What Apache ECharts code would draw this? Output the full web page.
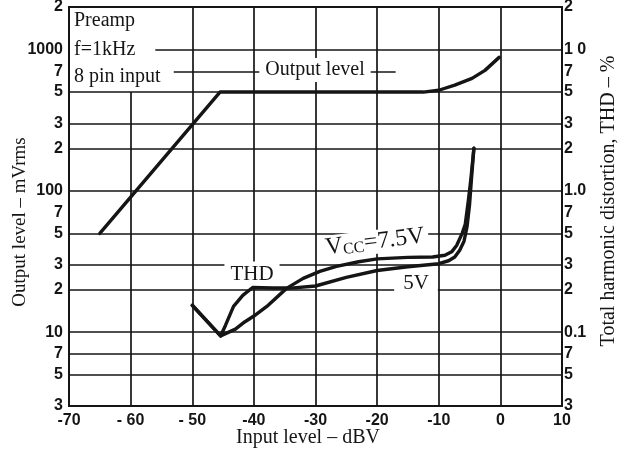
<!DOCTYPE html>
<html><head><meta charset="utf-8">
<script src="https://cdn.jsdelivr.net/npm/echarts@6/dist/echarts.min.js"></script>
<style>html,body{margin:0;padding:0;background:#fff}#c{width:624px;height:460px}</style>
</head><body><div id="c"></div>
<script>
// ---- axis ticks / labels ----
const xTicks = [-70, -60, -50, -40, -30, -20, -10, 0, 10];
const xTickLabels = ['-70', '- 60', '- 50', '-40', '-30', '-20', '-10', '0', '10'];
const leftTickValues = [2000, 1000, 700, 500, 300, 200, 100, 70, 50, 30, 20, 10, 7, 5, 3];
const leftTickLabels = ['2', '1000', '7', '5', '3', '2', '100', '7', '5', '3', '2', '10', '7', '5', '3'];
const rightTickValues = [20, 10, 7, 5, 3, 2, 1, 0.7, 0.5, 0.3, 0.2, 0.1, 0.07, 0.05, 0.03];
const rightTickLabels = ['2', '1 0', '7', '5', '3', '2', '1.0', '7', '5', '3', '2', '0.1', '7', '5', '3'];
// grid lines (data space)
const hGridFull = [500, 300, 200, 100, 50, 30, 20, 10, 7, 5];
const vGridFull = [-50, -40, -30, -20, -10, 0];
const gridSegments = [[[-56, 1000], [10, 1000]], [[-53, 700], [-17, 700]], [[-60, 3], [-60, 500]]];

// ---- series data ----
// Output level (mVrms) vs input level (dBV)
const outInput = [-65, -45.5, -12.5, -10, -7.4, -4.6, -2.5, -0.2];
const outLevel = [50, 500, 500, 515, 560, 625, 712, 880];
// THD (%) , Vcc = 7.5 V
const thd75Input = [-50, -45.4, -43, -41.5, -40, -37.9, -34.7, -32, -29.3, -26.6, -23, -20, -15, -11, -9, -7.9, -7.1, -6.2, -5.7, -5.2, -4.8, -4.3];
const thd75 = [0.155, 0.094, 0.105, 0.118, 0.13, 0.152, 0.204, 0.24, 0.269, 0.292, 0.315, 0.33, 0.338, 0.34, 0.35, 0.37, 0.41, 0.5, 0.58, 0.85, 1.2, 2.0];
// THD (%) , Vcc = 5 V
const thd5Input = [-50, -45.4, -44.6, -43.3, -41.8, -40.2, -37, -34, -30, -25, -20, -15, -10, -8.4, -7.4, -6.6, -5.9, -5.4, -5.0, -4.7, -4.3];
const thd5 = [0.155, 0.094, 0.112, 0.152, 0.182, 0.207, 0.205, 0.205, 0.212, 0.244, 0.273, 0.29, 0.305, 0.32, 0.34, 0.38, 0.44, 0.56, 0.8, 1.2, 2.0];

const INK = '#151515';
const SERIF = 'Liberation Serif';
const tickFont = { fontFamily: 'Liberation Sans', fontWeight: 'bold', fontSize: 16, color: INK };
const zip = (xs, ys) => xs.map((x, i) => [x, ys[i]]);

const chart = echarts.init(document.getElementById('c'), null, { renderer: 'canvas' });
const hiddenAxis = { axisLine: { show: false }, axisTick: { show: false }, axisLabel: { show: false }, splitLine: { show: false } };
const curveStyle = { color: INK, width: 3.4, cap: 'round', join: 'round' };

function txt(text, x, y, extra) {
  return Object.assign({ type: 'text', x: x, y: y, z: 2, silent: true,
    style: Object.assign({ text: text, font: '20px ' + SERIF, fill: INK, align: 'center', verticalAlign: 'middle' }, extra && extra.style) },
    extra && extra.el);
}

const option = {
  animation: false,
  backgroundColor: '#fff',
  grid: { left: 69, right: 62, top: 7, bottom: 54, show: true, borderColor: INK, borderWidth: 2,
          backgroundColor: 'transparent', containLabel: false, outerBoundsMode: 'none' },
  xAxis: { type: 'value', min: -70, max: 10, interval: 10,
    axisLine: { show: false }, axisTick: { show: false }, splitLine: { show: false },
    axisLabel: Object.assign({ margin: 7, formatter: v => { const i = xTicks.indexOf(v); return i >= 0 ? xTickLabels[i] : ''; } }, tickFont) },
  yAxis: [
    Object.assign({ type: 'log', logBase: 10, min: 3, max: 2000, position: 'left' }, hiddenAxis),
    Object.assign({ type: 'log', logBase: 10, min: 0.03, max: 20, position: 'right' }, hiddenAxis)
  ],
  series: [
    { type: 'line', name: 'leftLabels', data: [], yAxisIndex: 0, silent: true,
      markLine: { silent: true, symbol: 'none', z: 1, animation: false, lineStyle: { color: 'rgba(0,0,0,0)', width: 1 },
        label: Object.assign({ show: true, position: 'start', distance: 6 }, tickFont),
        data: leftTickValues.map((v, i) => ({ yAxis: v, label: { formatter: leftTickLabels[i] } })) } },
    { type: 'line', name: 'rightLabels', data: [], yAxisIndex: 1, silent: true,
      markLine: { silent: true, symbol: 'none', z: 1, animation: false, lineStyle: { color: 'rgba(0,0,0,0)', width: 1 },
        label: Object.assign({ show: true, position: 'end', distance: 2 }, tickFont),
        data: rightTickValues.map((v, i) => ({ yAxis: v, label: { formatter: rightTickLabels[i] } })) } },
    { type: 'line', name: 'gridLines', data: [], yAxisIndex: 0, silent: true,
      markLine: { silent: true, symbol: 'none', z: 1, animation: false,
        lineStyle: { color: INK, width: 1.7, type: 'solid', opacity: 1 }, label: { show: false },
        data: [].concat(
          hGridFull.map(v => ({ yAxis: v })),
          vGridFull.map(v => ({ xAxis: v })),
          gridSegments.map(s => [{ coord: s[0] }, { coord: s[1] }])
        ) } },
    { type: 'line', name: 'Output level', yAxisIndex: 0, z: 3, data: zip(outInput, outLevel),
      symbol: 'none', smooth: false, lineStyle: curveStyle },
    { type: 'line', name: 'THD Vcc=7.5V', yAxisIndex: 1, z: 3, data: zip(thd75Input, thd75),
      symbol: 'none', smooth: false, lineStyle: curveStyle },
    { type: 'line', name: 'THD 5V', yAxisIndex: 1, z: 3, data: zip(thd5Input, thd5),
      symbol: 'none', smooth: false, lineStyle: curveStyle }
  ],
  graphic: { elements: [
    txt('Preamp', 74, 21, { style: { align: 'left' } }),
    txt('f=1kHz', 74, 50, { style: { align: 'left' } }),
    txt('8 pin input', 74, 77, { style: { align: 'left' } }),
    txt('Output level', 315, 70, { style: { backgroundColor: '#fff', padding: [2, 6] } }),
    txt('THD', 252, 274, { style: { font: '21px ' + SERIF, backgroundColor: '#fff', padding: [2, 6] } }),
    txt('5V', 416, 283, { style: { font: '21px ' + SERIF, backgroundColor: '#fff', padding: [1, 9] } }),
    txt('{a|V}{b|CC}{a|=7.5V}', 375, 242, { el: { rotation: 0.12 }, style: { backgroundColor: '#fff', padding: [0, 4],
      rich: { a: { font: '24px ' + SERIF, fill: INK }, b: { font: '16px ' + SERIF, fill: INK, verticalAlign: 'bottom' } } } }),
    txt('Output level – mVrms', 20, 222, { el: { rotation: Math.PI / 2 }, style: { font: '19px ' + SERIF } }),
    txt('Total harmonic distortion, THD – %', 609, 201, { el: { rotation: Math.PI / 2 }, style: { font: '20px ' + SERIF } }),
    txt('Input level – dBV', 308, 438, { style: { font: '20px ' + SERIF } })
  ] }
};
chart.setOption(option);
</script>
</body></html>
